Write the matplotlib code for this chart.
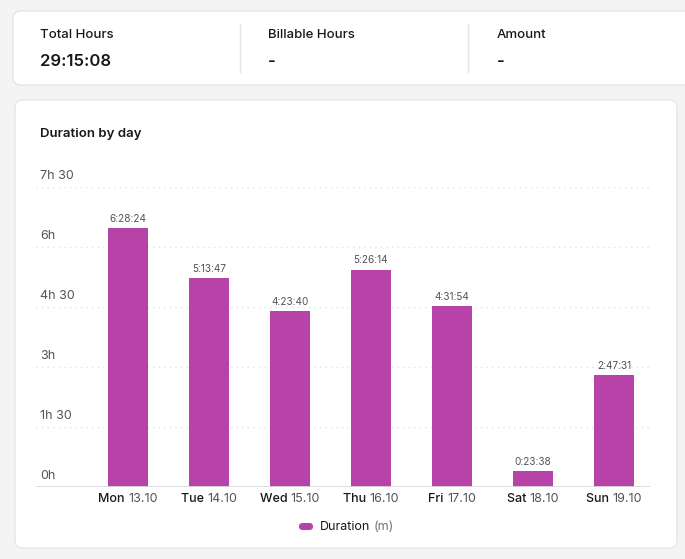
import matplotlib.pyplot as plt
from matplotlib.patches import FancyBboxPatch
from matplotlib.lines import Line2D

plt.rcParams['font.family'] = ['Inter', 'DejaVu Sans']

# dados
days = ["Mon", "Tue", "Wed", "Thu", "Fri", "Sat", "Sun"]
dates = ["13.10", "14.10", "15.10", "16.10", "17.10", "18.10", "19.10"]
durations = ["6:28:24", "5:13:47", "4:23:40", "5:26:14", "4:31:54", "0:23:38", "2:47:31"]
y_ticks = [0, 90, 180, 270, 360, 450]
y_tick_labels = ["0h", "1h 30", "3h", "4h 30", "6h", "7h 30"]
summary_titles = ["Total Hours", "Billable Hours", "Amount"]
summary_values = ["29:15:08", "-", "-"]


def to_minutes(s):
    h, m, sec = [int(p) for p in s.split(":")]
    return h * 60 + m + sec / 60.0


minutes = [to_minutes(d) for d in durations]

W, H = 685, 559
fig = plt.figure(figsize=(W / 100, H / 100), dpi=100)
fig.patch.set_facecolor("#f4f4f5")

# cards
bg = fig.add_axes([0, 0, 1, 1])
bg.set_xlim(0, W)
bg.set_ylim(H, 0)
bg.axis("off")
bg.add_patch(FancyBboxPatch((13, 11), 700, 74, boxstyle="round,pad=0,rounding_size=8",
                            fc="white", ec="#e6e6e8", lw=1))
bg.add_patch(FancyBboxPatch((15, 100), 662, 448, boxstyle="round,pad=0,rounding_size=8",
                            fc="white", ec="#e6e6e8", lw=1))

# resumo
xs = [40, 268, 497]
for i, (t, v) in enumerate(zip(summary_titles, summary_values)):
    bg.text(xs[i], 35, t, fontsize=9.5, fontweight="medium", color="#18181b", va="center")
    bg.text(xs[i], 62, v, fontsize=12, fontweight="semibold", color="#18181b", va="center")
for x in [240, 468]:
    bg.add_line(Line2D([x, x], [24, 72], color="#e4e4e7", lw=1))

bg.text(40, 134, "Duration by day", fontsize=9.5, fontweight="semibold", color="#18181b", va="center")

# gráfico
ax = fig.add_axes([36 / W, 72 / H, (650 - 36) / W, (487 - 187) / H])
ax.set_facecolor("none")
pos = list(range(len(days)))
bars = ax.bar(pos, minutes, width=0.5, color="#b843a8", zorder=3)
ax.set_xlim(-1.136, 6.444)
ax.set_ylim(0, 450)

for y in y_ticks[1:]:
    ax.axhline(y, color="#e4e4e7", lw=1, ls=(0, (1, 3)), zorder=1)
ax.axhline(0, color="#d9d9dc", lw=2, zorder=4)

for y, lab in zip(y_ticks, y_tick_labels):
    ax.annotate(lab, xy=(0, y), xycoords=ax.get_yaxis_transform(), xytext=(3, 8),
                textcoords="offset points", fontsize=9, color="#52525b", va="center",
                annotation_clip=False)

for p, m, d in zip(pos, minutes, durations):
    ax.annotate(d, xy=(p, m), xytext=(0, 6.5), textcoords="offset points", ha="center",
                va="center", fontsize=7.2, color="#52525b")

for sp in ax.spines.values():
    sp.set_visible(False)
ax.set_xticks([])
ax.set_yticks([])

# rótulos do eixo x em duas cores
day_txt = []
date_txt = []
for p, dname, dt in zip(pos, days, dates):
    day_txt.append(ax.annotate(dname + " ", xy=(p, 0), xytext=(0, -9), textcoords="offset points",
                               ha="right", va="center", fontsize=9, fontweight="medium",
                               color="#18181b"))
    date_txt.append(ax.annotate(dt, xy=(p, 0), xytext=(0, -9), textcoords="offset points",
                                ha="left", va="center", fontsize=9, color="#52525b"))

fig.canvas.draw()
rend = fig.canvas.get_renderer()
for a, b in zip(day_txt, date_txt):
    wa = a.get_window_extent(rend).width
    wb = b.get_window_extent(rend).width
    shift = (wa - wb) / 2 * 72 / fig.dpi
    a.set_position((shift, -9))
    b.set_position((shift, -9))

# legenda
bg.add_patch(FancyBboxPatch((299, 523), 14, 7, boxstyle="round,pad=0,rounding_size=3.5",
                            fc="#b843a8", ec="none"))
bg.text(320, 527, "Duration", fontsize=9, color="#18181b", va="center")
bg.text(374, 527, "(m)", fontsize=9, color="#71717a", va="center")

fig.savefig("out.png", dpi=100, facecolor=fig.get_facecolor())
